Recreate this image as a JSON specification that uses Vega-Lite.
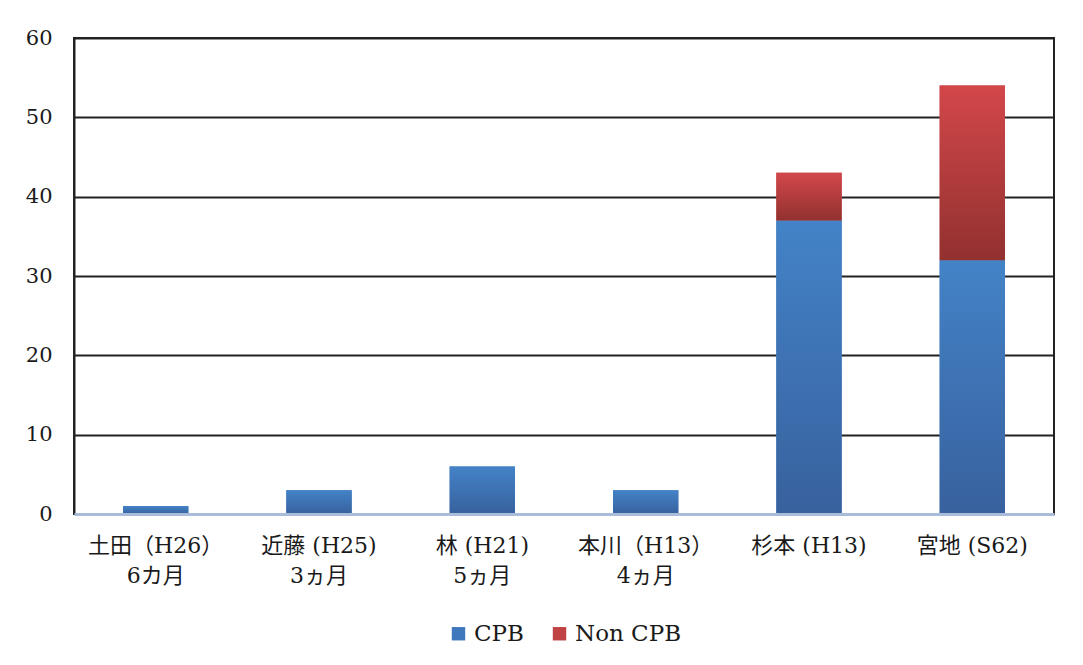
{
  "$schema": "https://vega.github.io/schema/vega-lite/v6.json",
  "autosize": {"type": "none"},
  "padding": {"left": 74, "top": 38, "right": 29, "bottom": 151},
  "width": 980,
  "height": 476,
  "background": "#ffffff",
  "data": {
    "values": [
      {"name": "土田（H26）|6カ月", "type": "CPB", "count": 1},
      {"name": "近藤 (H25)|3ヵ月", "type": "CPB", "count": 3},
      {"name": "林 (H21)|5ヵ月", "type": "CPB", "count": 6},
      {"name": "本川（H13）|4ヵ月", "type": "CPB", "count": 3},
      {"name": "杉本 (H13)", "type": "CPB", "count": 37},
      {"name": "杉本 (H13)", "type": "Non CPB", "count": 6},
      {"name": "宮地 (S62)", "type": "CPB", "count": 32},
      {"name": "宮地 (S62)", "type": "Non CPB", "count": 22}
    ]
  },
  "encoding": {
    "x": {
      "field": "name",
      "type": "nominal",
      "sort": null,
      "title": null,
      "scale": {"paddingInner": 0.6, "paddingOuter": 0.3},
      "axis": {
        "labelAngle": 0,
        "labelExpr": "split(datum.label, '|')",
        "labelFont": "DejaVu Serif, Noto Sans CJK JP",
        "labelFontSize": 22,
        "labelColor": "#1a1a1a",
        "labelLineHeight": 30,
        "labelBaseline": "top",
        "labelPadding": 21,
        "ticks": false,
        "domainColor": "#a9bcd9",
        "domainWidth": 3,
        "zindex": 1
      }
    },
    "y": {
      "field": "count",
      "type": "quantitative",
      "stack": "zero",
      "title": null,
      "scale": {"domain": [0, 60], "nice": false},
      "axis": {
        "values": [0, 10, 20, 30, 40, 50, 60],
        "labelFont": "DejaVu Serif",
        "labelFontSize": 21,
        "labelColor": "#1a1a1a",
        "labelPadding": 22,
        "ticks": false,
        "domainColor": "#222222",
        "domainWidth": 2,
        "gridColor": {"condition": {"test": "datum.value === 0", "value": "transparent"}, "value": "#222222"},
        "gridWidth": 2,
        "gridOpacity": 1
      }
    },
    "order": {"field": "type", "sort": "ascending"}
  },
  "layer": [
    {
      "mark": {"type": "bar"},
      "encoding": {
        "color": {
          "field": "type",
          "type": "nominal",
          "title": null,
          "scale": {"domain": ["CPB", "Non CPB"], "range": ["#3f78bc", "#c04243"]},
          "legend": {
            "orient": "bottom",
            "direction": "horizontal",
            "symbolType": "square",
            "symbolSize": 180,
            "symbolStrokeWidth": 0,
            "symbolOpacity": 1,
            "labelFont": "DejaVu Serif",
            "labelFontSize": 23,
            "labelColor": "#1a1a1a",
            "labelOffset": 4,
            "columnPadding": 24,
            "offset": 36
          }
        }
      }
    },
    {
      "mark": {"type": "bar"},
      "encoding": {
        "detail": {"field": "type", "type": "nominal"},
        "fill": {
          "condition": {
            "test": "datum.type === 'CPB'",
            "value": {"gradient": "linear", "x1": 0, "y1": 0, "x2": 0, "y2": 1,
              "stops": [{"offset": 0, "color": "#4383c7"}, {"offset": 1, "color": "#38619e"}]}
          },
          "value": {"gradient": "linear", "x1": 0, "y1": 0, "x2": 0, "y2": 1,
            "stops": [{"offset": 0, "color": "#d3474a"}, {"offset": 1, "color": "#923130"}]}
        }
      }
    }
  ],
  "config": {
    "view": {"stroke": "#222222", "strokeWidth": 2},
    "legend": {"layout": {"bottom": {"anchor": "middle"}}}
  }
}
